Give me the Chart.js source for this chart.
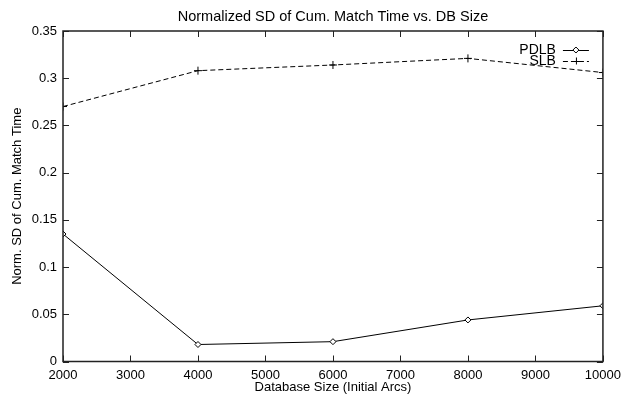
<!DOCTYPE html>
<html>
<head>
<meta charset="utf-8">
<script src="https://cdn.jsdelivr.net/npm/chart.js@4"></script>
<style>
html,body{margin:0;padding:0;background:#fff;}
#wrap{width:627px;height:394px;position:relative;}
</style>
</head>
<body>
<div id="wrap"><canvas id="c" width="627" height="394"></canvas></div>
<script>
const dbSizes = [2000, 4000, 6000, 8000, 10000];
const pdlbValues = [0.135, 0.018, 0.021, 0.044, 0.059];
const slbValues = [0.270, 0.308, 0.314, 0.321, 0.306];
const xTicks = [2000, 3000, 4000, 5000, 6000, 7000, 8000, 9000, 10000];
const yTicks = [0, 0.05, 0.1, 0.15, 0.2, 0.25, 0.3, 0.35];
const seriesNames = ['PDLB', 'SLB'];

const FONT = "'Liberation Sans', Arial, sans-serif";

const framePlugin = {
  id: 'frame',
  afterDatasetsDraw(chart) {
    const {ctx, chartArea: a, scales} = chart;
    ctx.save();
    ctx.strokeStyle = '#222';
    ctx.lineWidth = 1.5;
    ctx.strokeRect(a.left, a.top, a.right - a.left, a.bottom - a.top);
    ctx.lineWidth = 1;
    ctx.strokeStyle = '#222';
    const L = 6;
    ctx.beginPath();
    xTicks.forEach(v => {
      const x = Math.round(scales.x.getPixelForValue(v)) + 0.5;
      ctx.moveTo(x, a.bottom); ctx.lineTo(x, a.bottom - L);
      ctx.moveTo(x, a.top); ctx.lineTo(x, a.top + L);
    });
    yTicks.forEach(v => {
      const y = Math.round(scales.y.getPixelForValue(v)) + 0.5;
      ctx.moveTo(a.left, y); ctx.lineTo(a.left + L, y);
      ctx.moveTo(a.right, y); ctx.lineTo(a.right - L, y);
    });
    ctx.stroke();

    // gnuplot-style legend inside top-right
    ctx.font = '14px ' + FONT;
    ctx.fillStyle = '#000';
    ctx.textAlign = 'right';
    ctx.textBaseline = 'middle';
    const textRight = a.right - 47;
    const x0 = a.right - 40, x1 = a.right - 14, xm = (x0 + x1) / 2;
    chart.data.datasets.forEach((ds, i) => {
      const y = a.top + 19 + i * 11;
      ctx.fillText(ds.label, textRight, y);
      ctx.beginPath();
      ctx.strokeStyle = '#000';
      ctx.lineWidth = 1;
      ctx.setLineDash(ds.borderDash || []);
      ctx.moveTo(x0, y + 0.5); ctx.lineTo(x1, y + 0.5);
      ctx.stroke();
      ctx.setLineDash([]);
      ctx.beginPath();
      if (ds.pointStyle === 'rectRot') {
        const r = 3;
        ctx.moveTo(xm, y - r); ctx.lineTo(xm + r, y); ctx.lineTo(xm, y + r); ctx.lineTo(xm - r, y); ctx.closePath();
        ctx.fillStyle = '#fff'; ctx.fill(); ctx.fillStyle = '#000';
      } else {
        const r = 3.5;
        ctx.moveTo(xm - r, y + 0.5); ctx.lineTo(xm + r, y + 0.5);
        ctx.moveTo(xm + 0.5, y - r); ctx.lineTo(xm + 0.5, y + r);
      }
      ctx.stroke();
    });
    ctx.restore();
  }
};

new Chart(document.getElementById('c'), {
  type: 'line',
  data: {
    datasets: [
      {
        label: seriesNames[0],
        data: dbSizes.map((x, i) => ({x, y: pdlbValues[i]})),
        borderColor: '#000',
        borderWidth: 1,
        pointStyle: 'rectRot',
        pointRadius: 3,
        pointBorderWidth: 1,
        pointBorderColor: '#000',
        pointBackgroundColor: '#fff',
        tension: 0,
        fill: false
      },
      {
        label: seriesNames[1],
        data: dbSizes.map((x, i) => ({x, y: slbValues[i]})),
        borderColor: '#000',
        borderWidth: 1,
        borderDash: [5, 3],
        pointStyle: 'cross',
        pointRadius: 4,
        pointBorderWidth: 1,
        pointBorderColor: '#000',
        tension: 0,
        fill: false
      }
    ]
  },
  options: {
    responsive: false,
    animation: false,
    devicePixelRatio: 1,
    layout: {padding: {left: 0, right: 19, top: 0, bottom: 0}},
    plugins: {
      legend: {display: false},
      tooltip: {enabled: false},
      title: {
        display: true,
        fullSize: false,
        text: 'Normalized SD of Cum. Match Time vs. DB Size',
        color: '#000',
        font: {family: FONT, size: 14.5, weight: 'normal', lineHeight: 1.2},
        padding: {top: 8.5, bottom: 5.1}
      }
    },
    scales: {
      x: {
        type: 'linear',
        min: 2000,
        max: 10000,
        afterFit(s) { s.height = 32.5; },
        afterBuildTicks(s) { s.ticks = xTicks.map(v => ({value: v})); },
        grid: {display: false, drawTicks: false},
        border: {display: false},
        ticks: {color: '#000', font: {family: FONT, size: 13}, padding: 6, maxRotation: 0, autoSkip: false, callback: v => String(v)},
        title: {display: true, text: 'Database Size (Initial Arcs)', color: '#000', font: {family: FONT, size: 13}, padding: {top: 0, bottom: -1}}
      },
      y: {
        type: 'linear',
        min: 0,
        max: 0.35,
        afterFit(s) { s.width = 63; },
        afterBuildTicks(s) { s.ticks = yTicks.map(v => ({value: v})); },
        grid: {display: false, drawTicks: false},
        border: {display: false},
        ticks: {color: '#000', font: {family: FONT, size: 13}, padding: 6, callback: v => String(+v.toFixed(2))},
        title: {display: true, text: 'Norm. SD of Cum. Match Time', color: '#000', font: {family: FONT, size: 13}, padding: {top: 10, bottom: 0}}
      }
    }
  },
  plugins: [framePlugin]
});
</script>
</body>
</html>
